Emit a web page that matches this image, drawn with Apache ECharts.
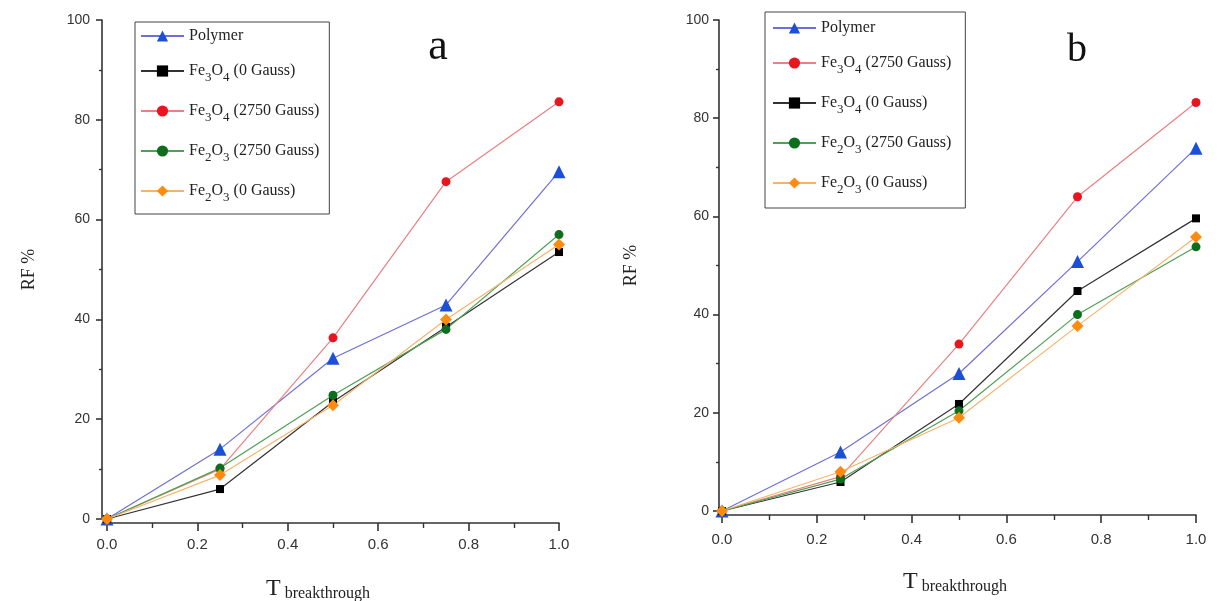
<!DOCTYPE html>
<html>
<head>
<meta charset="utf-8">
<script src="https://cdn.jsdelivr.net/npm/echarts@6/dist/echarts.min.js"></script>
<style>
html,body{margin:0;padding:0;background:#fff;}
#chart{width:1220px;height:601px;}
</style>
</head>
<body>
<div id="chart"></div>
<script>
// ---- data ----
const tValues = [0, 0.25, 0.5, 0.75, 1.0];
const xTickLabels = ['0.0', '0.2', '0.4', '0.6', '0.8', '1.0'];
const yTickLabels = ['0', '20', '40', '60', '80', '100'];

// panel a
const aPolymer     = [0, 14, 32.2, 42.9, 69.6];
const aFe3O4_0     = [0, 6, 23.5, 38.5, 53.5];
const aFe3O4_2750  = [0, 10, 36.3, 67.6, 83.6];
const aFe2O3_2750  = [0, 10.2, 24.8, 38, 57];
const aFe2O3_0     = [0, 8.8, 22.8, 40, 55];

// panel b
const bPolymer     = [0, 12, 28, 50.8, 73.9];
const bFe3O4_2750  = [0, 7, 34, 64, 83.2];
const bFe3O4_0     = [0, 5.9, 21.8, 44.8, 59.6];
const bFe2O3_2750  = [0, 6.5, 20.4, 40, 53.8];
const bFe2O3_0     = [0, 8, 19, 37.7, 55.8];

const N_POLY = 'Polymer';
const N_F3_0 = 'Fe3O4 (0 Gauss)';
const N_F3_H = 'Fe3O4 (2750 Gauss)';
const N_F2_H = 'Fe2O3 (2750 Gauss)';
const N_F2_0 = 'Fe2O3 (0 Gauss)';

const legendA = [N_POLY, N_F3_0, N_F3_H, N_F2_H, N_F2_0];
const legendB = [N_POLY, N_F3_H, N_F3_0, N_F2_H, N_F2_0];

// ---- styles ----
const SERIF = 'Liberation Serif';
const SANS = 'Liberation Sans';
const styles = {};
styles[N_POLY] = {line: '#6f6fd8', mark: '#1a4fd6', symbol: 'triangle', size: 13};
styles[N_F3_0] = {line: '#333333', mark: '#000000', symbol: 'rect', size: 8};
styles[N_F3_H] = {line: '#ea8080', mark: '#e8141e', symbol: 'circle', size: 9};
styles[N_F2_H] = {line: '#4f9f55', mark: '#0d6e1e', symbol: 'circle', size: 9};
styles[N_F2_0] = {line: '#f5b46a', mark: '#ff8a10', symbol: 'diamond', size: 12};

function pairs(ys) { return tValues.map((t, i) => [t, ys[i]]); }

function mkSeries(name, ys, idx) {
  const s = styles[name];
  return {
    type: 'line', name: name, xAxisIndex: idx, yAxisIndex: idx,
    data: pairs(ys),
    symbol: s.symbol, symbolSize: s.size,
    lineStyle: {color: s.line, width: 1.2},
    itemStyle: {color: s.mark},
    emphasis: {disabled: true},
    animation: false
  };
}

function legendFmt(name) {
  if (name === N_POLY) return '{p|Polymer}';
  return '{n|' + name.replace(/([A-Za-z])(\d)/g, '$1}{s|$2}{n|') + '}';
}

function mkLegend(data, left, top, pad) {
  return {
    data: data, orient: 'vertical', left: left, top: top,
    padding: pad, itemGap: 19, itemWidth: 43, itemHeight: 14,
    borderColor: '#444', borderWidth: 1, borderRadius: 0,
    selectedMode: false,
    formatter: legendFmt,
    textStyle: {
      fontFamily: SERIF, fontSize: 16, color: '#222',
      rich: {
        p: {fontFamily: SERIF, fontSize: 16, color: '#222', lineHeight: 14},
        n: {fontFamily: SERIF, fontSize: 16, color: '#222', lineHeight: 26},
        s: {fontFamily: SERIF, fontSize: 13, color: '#222', lineHeight: 14, verticalAlign: 'bottom'}
      }
    }
  };
}

function mkX(idx, labelMargin, nameGap, namePad) {
  return {
    type: 'value', gridIndex: idx, min: 0, max: 1, interval: 0.2,
    offset: 4,
    axisLine: {show: true, onZero: false, lineStyle: {color: '#333', width: 1.6}},
    axisTick: {show: true, length: 8, lineStyle: {color: '#333', width: 1.6}},
    minorTick: {show: true, splitNumber: 2, length: 5, lineStyle: {color: '#333', width: 1.4}},
    splitLine: {show: false},
    axisLabel: {
      margin: labelMargin, fontFamily: SANS, fontSize: 15, color: '#333',
      formatter: function (v) { return xTickLabels[Math.round(v / 0.2)]; }
    },
    name: '{t|T}{b| breakthrough}',
    nameLocation: 'middle', nameGap: nameGap,
    nameTextStyle: {
      padding: namePad,
      rich: {
        t: {fontFamily: SERIF, fontSize: 24, color: '#222', lineHeight: 26},
        b: {fontFamily: SERIF, fontSize: 16, color: '#222', lineHeight: 26, verticalAlign: 'bottom'}
      }
    }
  };
}

function mkY(idx, off, labelMargin, nameGap) {
  return {
    type: 'value', gridIndex: idx, min: 0, max: 100, interval: 20,
    offset: off,
    axisLine: {show: true, onZero: false, lineStyle: {color: '#333', width: 1.6}},
    axisTick: {show: true, length: 6, lineStyle: {color: '#333', width: 1.6}},
    minorTick: {show: true, splitNumber: 2, length: 3, lineStyle: {color: '#333', width: 1.4}},
    splitLine: {show: false},
    axisLabel: {
      margin: labelMargin, fontFamily: SANS, fontSize: 14, color: '#333',
      formatter: function (v) { return yTickLabels[Math.round(v / 20)]; }
    },
    name: 'RF %', nameLocation: 'middle', nameGap: nameGap,
    nameTextStyle: {fontFamily: SERIF, fontSize: 18, color: '#222'}
  };
}

const chart = echarts.init(document.getElementById('chart'), null, {renderer: 'canvas'});
chart.setOption({
  backgroundColor: '#ffffff',
  animation: false,
  grid: [
    {left: 107, top: 20, width: 452, height: 499, outerBoundsMode: 'none', containLabel: false},
    {left: 722, top: 20, width: 474, height: 491, outerBoundsMode: 'none', containLabel: false}
  ],
  xAxis: [mkX(0, 14, 53, [0, 30, 0, 0]), mkX(1, 17, 54, [0, 8, 0, 0])],
  yAxis: [mkY(0, 5, 12, 64), mkY(1, 3, 10, 79)],
  legend: [
    mkLegend(legendA, 135, 22, [6, 10, 10, 5]),
    mkLegend(legendB, 765, 12, [8, 14, 12, 7])
  ],
  graphic: [
    {type: 'text', x: 438, y: 47, style: {text: 'a', font: '44px "Liberation Serif"', fill: '#111', align: 'center', verticalAlign: 'middle'}},
    {type: 'text', x: 1077, y: 50, style: {text: 'b', font: '40px "Liberation Serif"', fill: '#111', align: 'center', verticalAlign: 'middle'}}
  ],
  series: [
    mkSeries(N_POLY, aPolymer, 0),
    mkSeries(N_F3_0, aFe3O4_0, 0),
    mkSeries(N_F3_H, aFe3O4_2750, 0),
    mkSeries(N_F2_H, aFe2O3_2750, 0),
    mkSeries(N_F2_0, aFe2O3_0, 0),
    mkSeries(N_POLY, bPolymer, 1),
    mkSeries(N_F3_H, bFe3O4_2750, 1),
    mkSeries(N_F3_0, bFe3O4_0, 1),
    mkSeries(N_F2_H, bFe2O3_2750, 1),
    mkSeries(N_F2_0, bFe2O3_0, 1)
  ]
});
</script>
</body>
</html>
